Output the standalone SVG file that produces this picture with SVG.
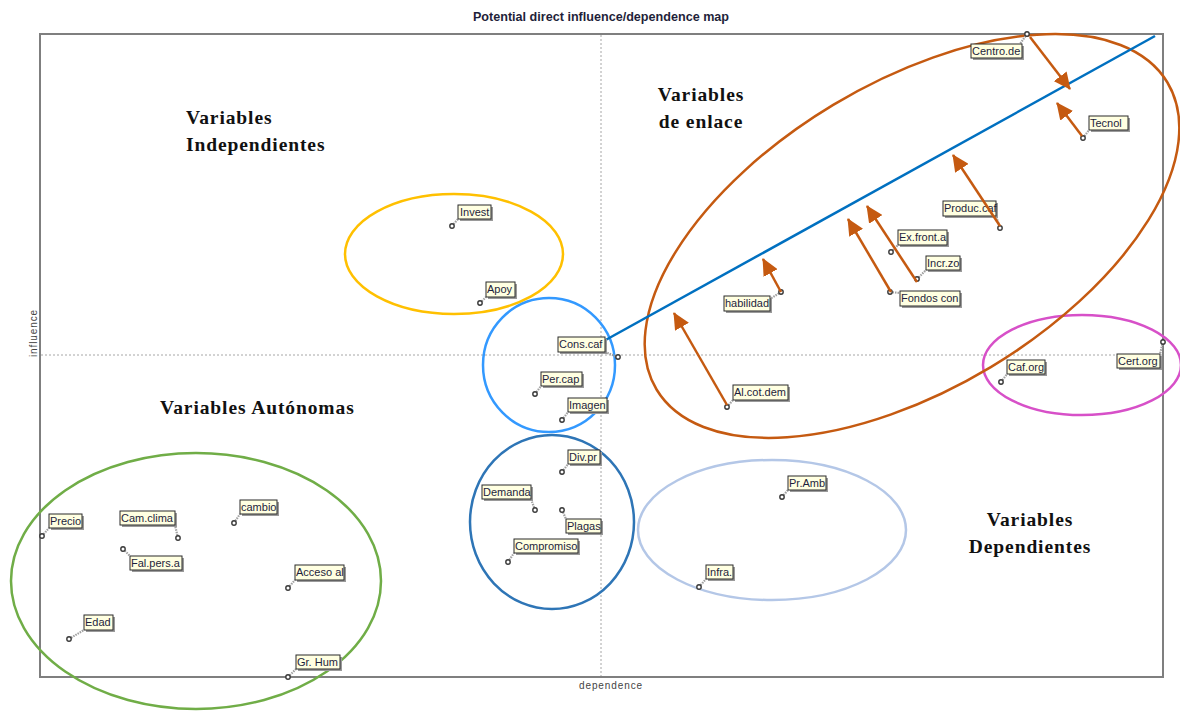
<svg xmlns="http://www.w3.org/2000/svg" width="1180" height="711" viewBox="0 0 1180 711">
  <style>
    .title{font-family:"Liberation Sans",Arial,sans-serif;font-size:12.6px;font-weight:bold;fill:#1f1f3a}
    .axis{font-family:"Liberation Sans",Arial,sans-serif;font-size:10px;fill:#444;letter-spacing:0.9px}
    .zone{font-family:"Liberation Serif","Times New Roman",serif;font-size:19.5px;font-weight:bold;fill:#111;letter-spacing:0.9px}
    .frame{fill:none;stroke:#7f7f7f;stroke-width:2}
    .mid{stroke:#a6a6a6;stroke-width:1;stroke-dasharray:2 2}
    .lbl rect{fill:#ffffe1;stroke:#2b2b2b;stroke-width:1}
    .lbl .sh{fill:#9a9a9a;stroke:none}
    .lbl text{font-family:"Liberation Sans",Arial,sans-serif;font-size:11px;fill:#1e1e3c}
    .lbl line{stroke:#a0a0a0;stroke-width:2.2;stroke-dasharray:1.5 1}
    .lbl circle{fill:#fff;stroke:#3a3a3a;stroke-width:1.4}
    .grp{fill:none;stroke-width:2.5}
    .arw{stroke:#c55a11;stroke-width:2.5;fill:none;marker-end:url(#ah)}
  </style>
  <defs>
    <marker id="ah" markerUnits="userSpaceOnUse" markerWidth="18" markerHeight="16" refX="16" refY="8" orient="auto">
      <path d="M0,0 L17,8 L0,16 Z" fill="#c55a11"/>
    </marker>
  </defs>

  <rect x="0" y="0" width="1180" height="711" fill="#fff"/>
  <text class="title" x="601" y="21" text-anchor="middle">Potential direct influence/dependence map</text>

  <!-- plot frame and mid axes -->
  <g id="frame">
    <rect class="frame" x="40" y="34" width="1123" height="643"/>
    <line class="mid" x1="601" y1="35" x2="601" y2="676"/>
    <line class="mid" x1="41" y1="355" x2="1162" y2="355"/>
    <text class="axis" x="611" y="689" text-anchor="middle">dependence</text>
    <text class="axis" x="0" y="0" font-size="7" transform="translate(37,333) rotate(-90)" text-anchor="middle">influence</text>
  </g>

  <!-- zone titles -->
  <g id="zones">
    <text class="zone" x="186" y="124">Variables</text>
    <text class="zone" x="186" y="151">Independientes</text>
    <text class="zone" x="701" y="101" text-anchor="middle">Variables</text>
    <text class="zone" x="701" y="128" text-anchor="middle">de enlace</text>
    <text class="zone" x="160" y="414">Variables Autónomas</text>
    <text class="zone" x="1030" y="526" text-anchor="middle">Variables</text>
    <text class="zone" x="1030" y="553" text-anchor="middle">Dependientes</text>
  </g>

  <!-- grouping ellipses -->
  <g id="groups">
    <ellipse class="grp" cx="454" cy="254" rx="109" ry="60" stroke="#ffc000"/>
    <ellipse class="grp" cx="549" cy="365" rx="66" ry="67" stroke="#3399ff"/>
    <ellipse class="grp" cx="552" cy="522" rx="82" ry="87" stroke="#2e75b6"/>
    <ellipse class="grp" cx="196" cy="581" rx="185" ry="128" stroke="#70ad47"/>
    <ellipse class="grp" cx="772" cy="530" rx="134" ry="70" stroke="#b4c7e7"/>
    <ellipse class="grp" cx="1082" cy="365" rx="99" ry="50" stroke="#d750c8"/>
    <ellipse class="grp" cx="912" cy="236" rx="298" ry="153" stroke="#c55a11" transform="rotate(-31 912 236)"/>
  </g>

  <!-- trend line -->
  <line id="trend" x1="602" y1="342" x2="1155" y2="36" stroke="#0070c0" stroke-width="2.5"/>

  <!-- variable points with labels -->
  <g id="n-invest" class="lbl"><line x1="452" y1="226" x2="458" y2="219"/><circle cx="452" cy="226" r="2.2"/><rect class="sh" x="460" y="207" width="33" height="14"/><rect x="458" y="205" width="33" height="14"/><text x="460" y="216">Invest</text></g>
  <g id="n-apoy" class="lbl"><line x1="480" y1="303" x2="486" y2="297"/><circle cx="480" cy="303" r="2.2"/><rect class="sh" x="488" y="284" width="29" height="15"/><rect x="486" y="282" width="29" height="15"/><text x="487" y="293">Apoy</text></g>
  <g id="n-conscaf" class="lbl"><line x1="618" y1="357" x2="605" y2="352"/><circle cx="618" cy="357" r="2.2"/><rect class="sh" x="560" y="339" width="47" height="15"/><rect x="558" y="337" width="47" height="15"/><text x="559" y="348">Cons.caf</text></g>
  <g id="n-percap" class="lbl"><line x1="535" y1="394" x2="541" y2="386"/><circle cx="535" cy="394" r="2.2"/><rect class="sh" x="543" y="374" width="41" height="14"/><rect x="541" y="372" width="41" height="14"/><text x="542" y="383">Per.cap</text></g>
  <g id="n-imagen" class="lbl"><line x1="562" y1="420" x2="568" y2="412"/><circle cx="562" cy="420" r="2.2"/><rect class="sh" x="570" y="400" width="39" height="14"/><rect x="568" y="398" width="39" height="14"/><text x="569" y="409">Imagen</text></g>
  <g id="n-divpr" class="lbl"><line x1="562" y1="472" x2="568" y2="464"/><circle cx="562" cy="472" r="2.2"/><rect class="sh" x="570" y="452" width="32" height="14"/><rect x="568" y="450" width="32" height="14"/><text x="569" y="461">Div.pr</text></g>
  <g id="n-demanda" class="lbl"><line x1="535" y1="510" x2="531" y2="499"/><circle cx="535" cy="510" r="2.2"/><rect class="sh" x="484" y="487" width="49" height="14"/><rect x="482" y="485" width="49" height="14"/><text x="483" y="496">Demanda</text></g>
  <g id="n-plagas" class="lbl"><line x1="562" y1="510" x2="566" y2="519"/><circle cx="562" cy="510" r="2.2"/><rect class="sh" x="568" y="521" width="35" height="14"/><rect x="566" y="519" width="35" height="14"/><text x="567" y="530">Plagas</text></g>
  <g id="n-compromiso" class="lbl"><line x1="508" y1="562" x2="514" y2="553"/><circle cx="508" cy="562" r="2.2"/><rect class="sh" x="516" y="541" width="64" height="14"/><rect x="514" y="539" width="64" height="14"/><text x="515" y="550">Compromiso</text></g>
  <g id="n-precio" class="lbl"><line x1="42" y1="536" x2="49" y2="528"/><circle cx="42" cy="536" r="2.2"/><rect class="sh" x="51" y="516" width="33" height="14"/><rect x="49" y="514" width="33" height="14"/><text x="50" y="525">Precio</text></g>
  <g id="n-camclima" class="lbl"><line x1="178" y1="538" x2="175" y2="525"/><circle cx="178" cy="538" r="2.2"/><rect class="sh" x="122" y="513" width="55" height="14"/><rect x="120" y="511" width="55" height="14"/><text x="121" y="522">Cam.clima</text></g>
  <g id="n-cambio" class="lbl"><line x1="234" y1="523" x2="240" y2="514"/><circle cx="234" cy="523" r="2.2"/><rect class="sh" x="242" y="502" width="37" height="14"/><rect x="240" y="500" width="37" height="14"/><text x="241" y="511">cambio</text></g>
  <g id="n-falpers" class="lbl"><line x1="123" y1="549" x2="130" y2="556"/><circle cx="123" cy="549" r="2.2"/><rect class="sh" x="132" y="558" width="52" height="14"/><rect x="130" y="556" width="52" height="14"/><text x="131" y="567">Fal.pers.a</text></g>
  <g id="n-acceso" class="lbl"><line x1="288" y1="588" x2="295" y2="580"/><circle cx="288" cy="588" r="2.2"/><rect class="sh" x="297" y="567" width="49" height="15"/><rect x="295" y="565" width="49" height="15"/><text x="296" y="576">Acceso al</text></g>
  <g id="n-edad" class="lbl"><line x1="69" y1="639" x2="84" y2="630"/><circle cx="69" cy="639" r="2.2"/><rect class="sh" x="86" y="617" width="29" height="15"/><rect x="84" y="615" width="29" height="15"/><text x="85" y="626">Edad</text></g>
  <g id="n-grhum" class="lbl"><line x1="288" y1="677" x2="296" y2="669"/><circle cx="288" cy="677" r="2.2"/><rect class="sh" x="298" y="657" width="44" height="14"/><rect x="296" y="655" width="44" height="14"/><text x="297" y="666">Gr. Hum</text></g>
  <g id="n-habilidad" class="lbl"><line x1="781" y1="292" x2="770" y2="299"/><circle cx="781" cy="292" r="2.2"/><rect class="sh" x="726" y="298" width="46" height="15"/><rect x="724" y="296" width="46" height="15"/><text x="725" y="307">habilidad</text></g>
  <g id="n-alcotdem" class="lbl"><line x1="727" y1="407" x2="733" y2="400"/><circle cx="727" cy="407" r="2.2"/><rect class="sh" x="735" y="387" width="55" height="15"/><rect x="733" y="385" width="55" height="15"/><text x="734" y="396">Al.cot.dem</text></g>
  <g id="n-fondos" class="lbl"><line x1="890" y1="292" x2="900" y2="293"/><circle cx="890" cy="292" r="2.2"/><rect class="sh" x="902" y="293" width="60" height="15"/><rect x="900" y="291" width="60" height="15"/><text x="901" y="302">Fondos con</text></g>
  <g id="n-incrzo" class="lbl"><line x1="917" y1="279" x2="926" y2="270"/><circle cx="917" cy="279" r="2.2"/><rect class="sh" x="928" y="258" width="34" height="14"/><rect x="926" y="256" width="34" height="14"/><text x="927" y="267">Incr.zo</text></g>
  <g id="n-exfront" class="lbl"><line x1="891" y1="252" x2="898" y2="245"/><circle cx="891" cy="252" r="2.2"/><rect class="sh" x="900" y="232" width="49" height="15"/><rect x="898" y="230" width="49" height="15"/><text x="899" y="241">Ex.front.a</text></g>
  <g id="n-produc" class="lbl"><line x1="1000" y1="228" x2="996" y2="216"/><circle cx="1000" cy="228" r="2.2"/><rect class="sh" x="945" y="203" width="53" height="15"/><rect x="943" y="201" width="53" height="15"/><text x="944" y="212">Produc.caf</text></g>
  <g id="n-centro" class="lbl"><line x1="1027" y1="34" x2="1020" y2="44"/><circle cx="1027" cy="34" r="2.2"/><rect class="sh" x="973" y="46" width="51" height="14"/><rect x="971" y="44" width="51" height="14"/><text x="972" y="55">Centro.de</text></g>
  <g id="n-tecnol" class="lbl"><line x1="1083" y1="138" x2="1089" y2="130"/><circle cx="1083" cy="138" r="2.2"/><rect class="sh" x="1091" y="118" width="39" height="14"/><rect x="1089" y="116" width="39" height="14"/><text x="1090" y="127">Tecnol</text></g>
  <g id="n-caforg" class="lbl"><line x1="1001" y1="382" x2="1007" y2="374"/><circle cx="1001" cy="382" r="2.2"/><rect class="sh" x="1009" y="362" width="38" height="14"/><rect x="1007" y="360" width="38" height="14"/><text x="1008" y="371">Caf.org</text></g>
  <g id="n-certorg" class="lbl"><line x1="1163" y1="342" x2="1160" y2="354"/><circle cx="1163" cy="342" r="2.2"/><rect class="sh" x="1119" y="356" width="43" height="14"/><rect x="1117" y="354" width="43" height="14"/><text x="1118" y="365">Cert.org</text></g>
  <g id="n-pramb" class="lbl"><line x1="782" y1="497" x2="788" y2="490"/><circle cx="782" cy="497" r="2.2"/><rect class="sh" x="790" y="478" width="38" height="14"/><rect x="788" y="476" width="38" height="14"/><text x="789" y="487">Pr.Amb</text></g>
  <g id="n-infra" class="lbl"><line x1="699" y1="587" x2="706" y2="579"/><circle cx="699" cy="587" r="2.2"/><rect class="sh" x="708" y="567" width="27" height="14"/><rect x="706" y="565" width="27" height="14"/><text x="707" y="576">Infra.</text></g>

  <!-- movement arrows -->
  <g id="connectors">
    <line class="arw" x1="1030" y1="37" x2="1070" y2="89"/>
    <line class="arw" x1="1082" y1="136" x2="1057" y2="103"/>
    <line class="arw" x1="1000" y1="226" x2="953" y2="155"/>
    <line class="arw" x1="917" y1="282" x2="867" y2="206"/>
    <line class="arw" x1="891" y1="292" x2="848" y2="219"/>
    <line class="arw" x1="781" y1="292" x2="763" y2="259"/>
    <line class="arw" x1="727" y1="405" x2="674" y2="313"/>
  </g>
</svg>
